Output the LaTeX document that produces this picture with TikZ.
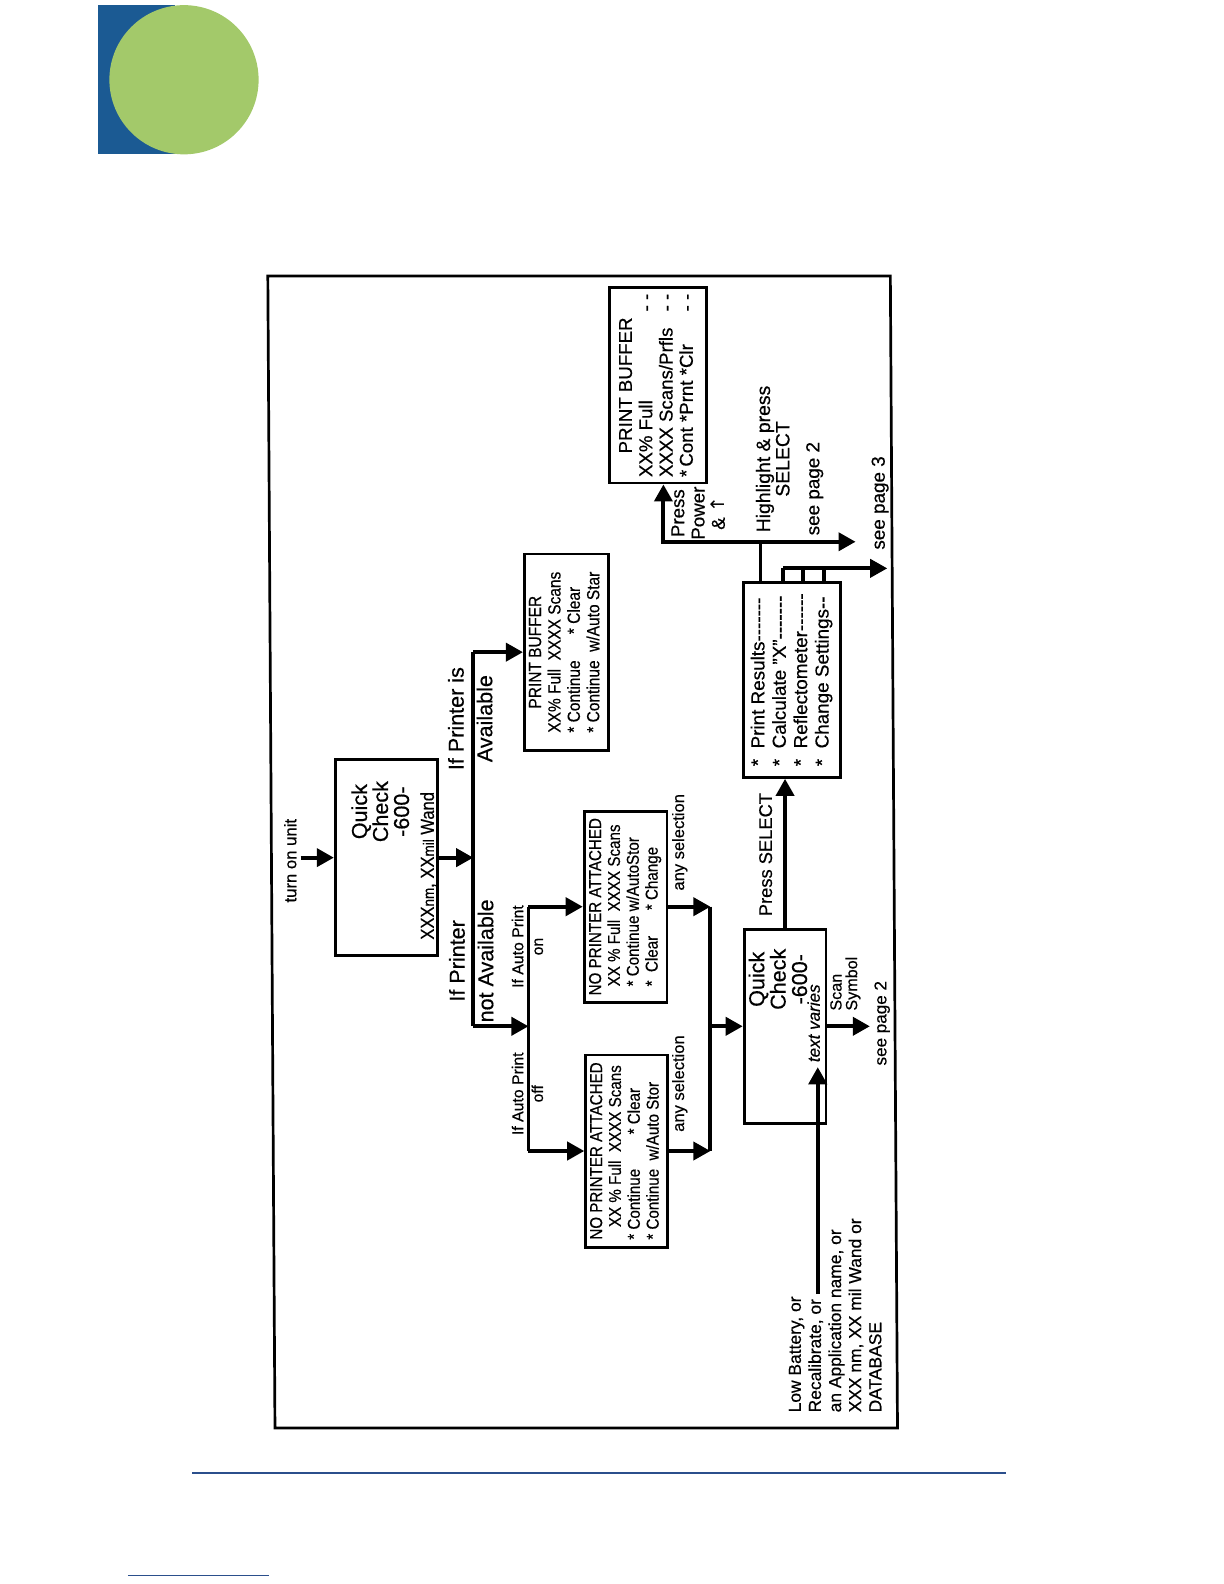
\documentclass[tikz,border=0pt]{standalone}
\usepackage{fontspec}
\setmainfont{Liberation Sans}[FakeBold=0.5]
\newfontfamily\narrowfont{Liberation Sans}[FakeStretch=0.88, FakeBold=0.4]
\newfontfamily\symbolfont{DejaVu Sans}
\usetikzlibrary{arrows.meta}

\definecolor{logoblue}{HTML}{1B5A93}
\definecolor{logogreen}{HTML}{A3C96A}
\definecolor{ruleblue}{HTML}{2B4F8C}

\begin{document}
\begin{tikzpicture}[
    x=0.02cm, y=-0.02cm,
    box/.style={
        draw,
        line width=1.6pt,
        rotate=90,
        inner sep=0pt,
        align=center
    },
    lbl/.style={rotate=90, inner sep=0pt, align=center},
    arrow/.style={-{Triangle[length=9.5pt,width=10pt]}, line width=2.2pt},
    wire/.style={line width=2.2pt}
]
\useasboundingbox (0,0) rectangle (1197.4,1549.6);

% ===== Page decoration =====
\fill[logoblue] (96,5) rectangle (171,151);
\fill[logogreen] (180,78) circle (1.46cm);
\draw[ruleblue, line width=0.8pt] (188,1441) -- (984,1441);
\draw[ruleblue, line width=0.8pt] (125,1541) -- (263,1541);

% ===== Frame =====
\draw[line width=1.5pt] (262,270) -- (871,270) -- (878,1397) -- (269,1397) -- cycle;

% ===== Boxes =====
\node[box, minimum width=3.84cm, minimum height=2.0cm] (qc1) at (378,839) {};

\node[box, minimum width=3.84cm, minimum height=1.64cm,
      font=\narrowfont\fontsize{9.8}{10.8}\selectfont] (pbuf) at (554,638)
  {\begin{tabular}{@{}l@{}}\multicolumn{1}{@{}c@{}}{PRINT BUFFER}\\
   XX\% Full\ \ XXXX Scans\\
   {*} Continue\quad\ \ {*} Clear\\
   {*} Continue\ \ w/Auto Star\end{tabular}};

\node[box, minimum width=3.74cm, minimum height=1.62cm,
      font=\narrowfont\fontsize{9.6}{10.5}\selectfont] (noprnon) at (612,887)
  {\begin{tabular}{@{}l@{}}\multicolumn{1}{@{}c@{}}{NO PRINTER ATTACHED}\\
   \hspace*{5pt}XX \% Full\ \ XXXX Scans\\
   \hspace*{5pt}{*} Continue w/AutoStor\\
   \hspace*{5pt}{*}\ \ Clear\quad\ \ {*} Change\end{tabular}};

\node[box, minimum width=3.76cm, minimum height=1.60cm,
      font=\narrowfont\fontsize{9.6}{10.5}\selectfont] (noproff) at (613,1126)
  {\begin{tabular}{@{}l@{}}\multicolumn{1}{@{}c@{}}{NO PRINTER ATTACHED}\\
   \hspace*{7pt}XX \% Full\ \ XXXX Scans\\
   {*} Continue\qquad {*} Clear\\
   {*} Continue\ \ w/Auto Stor\end{tabular}};

\node[box, minimum width=3.80cm, minimum height=1.60cm] (qc2) at (768,1004) {};

\node[box, minimum width=3.82cm, minimum height=1.90cm,
      font=\fontsize{10.5}{11.9}\selectfont] (menu) at (775,665)
  {\begin{tabular}{@{}l@{}}
   {*}\ \ Print Results-{}-{}-{}-{}-{}-{}-\\
   {*}\ \ Calculate "X"-{}-{}-{}-{}-{}-{}-\\
   {*}\ \ Reflectometer-{}-{}-{}-{}-{}-\\
   {*}\ \ Change Settings-{}-\end{tabular}};

\node[box, minimum width=3.82cm, minimum height=1.90cm,
      font=\fontsize{10.4}{11.3}\selectfont] (pbufpow) at (644,377)
  {\begin{tabular}{@{}l@{\hspace{9pt}}r@{}}\multicolumn{2}{@{}c@{}}{PRINT BUFFER}\\
   XX\% Full & - -\\
   XXXX Scans/Prfls & - -\\
   {*}\,Cont *Prnt *Clr & - -\end{tabular}};

% ===== Texts inside the Quick Check boxes =====
\node[lbl, font=\fontsize{12}{11.7}\selectfont] (qc1name) at (372,794) {Quick\\Check\\-600-};
\node[lbl, font=\narrowfont\fontsize{10.5}{12}\selectfont] (qc1wand) at (419,847)
  {XXX{\fontsize{8.5}{9}\selectfont nm}, XX{\fontsize{8.5}{9}\selectfont mil} Wand};

\node[lbl, font=\fontsize{12}{11.9}\selectfont] (qc2name) at (761,958) {Quick\\Check\\-600-};
\node[lbl, font=\itshape\fontsize{9.5}{10}\selectfont] (varies) at (796,1001) {text varies};

% ===== Labels =====
\node[lbl, font=\fontsize{9.3}{11}\selectfont] (turnlbl) at (284,842) {turn on unit};
\node[lbl, font=\fontsize{12}{15.9}\selectfont] (availlbl) at (460,703) {If Printer is\\Available};
\node[lbl, font=\fontsize{12}{15.9}\selectfont] (notavaillbl) at (461,940) {If Printer\\not Available};
\node[lbl, font=\fontsize{8.8}{11}\selectfont] (aponlbl) at (516,926) {If Auto Print\\on};
\node[lbl, font=\fontsize{8.8}{11}\selectfont] (apofflbl) at (516,1070) {If Auto Print\\off};
\node[lbl, font=\fontsize{9.2}{11}\selectfont] (anyselon) at (665,824) {any selection};
\node[lbl, font=\fontsize{9.2}{11}\selectfont] (anyseloff) at (665,1060) {any selection};
\node[lbl, font=\fontsize{10.2}{12}\selectfont] (presssel) at (749,836) {Press SELECT};
\node[lbl, font=\fontsize{9}{8.7}\selectfont, align=left, anchor=west] (scanlbl) at (827,989) {Scan\\Symbol};
\node[lbl, font=\fontsize{9.5}{11}\selectfont] (seepagetwob) at (863,1001) {see page 2};
\node[lbl, font=\fontsize{9.7}{11.2}\selectfont, align=left, anchor=west] (lowbatlbl) at (817,1382)
  {Low Battery, or\\Recalibrate, or\\an Application name, or\\XXX nm, XX mil Wand or\\DATABASE};
\node[lbl, font=\fontsize{10.8}{10.8}\selectfont] (highlbl) at (756,449) {Highlight \& press\\SELECT};
\node[lbl, font=\fontsize{10.5}{11}\selectfont] (seepagetwoa) at (797,478) {see page 2};
\node[lbl, font=\fontsize{10.5}{11}\selectfont] (seepagethree) at (861,492) {see page 3};
\node[lbl, font=\fontsize{10.4}{11.3}\selectfont] (presspow) at (683,502) {Press\\Power\\\& {\symbolfont ↑}};

% ===== Junction points =====
\coordinate (turnon) at (294,839);
\coordinate (avail) at (463,638);
\coordinate (notavail) at (463,1004);
\coordinate (apon) at (517,887);
\coordinate (apoff) at (517,1126);
\coordinate (mtop) at (695,887);
\coordinate (mbot) at (695,1126);
\coordinate (scanend) at (851,1004);
\coordinate (lowbat) at (800,1266);
\coordinate (lowtip) at (800,1044);
\coordinate (hl) at (744,530);
\coordinate (pp) at (649,530);
\coordinate (seetwo) at (837,530);
\coordinate (seethreea) at (766,556);
\coordinate (seethree) at (868,556);

% ===== Arrows =====
\draw[arrow] (turnon) -- (qc1.north);
\draw[arrow] (qc1.south) -- (qc1.south -| avail);
\draw[wire] (avail) -- (notavail);
\draw[arrow] (avail) -- (pbuf.north);
\draw[arrow] (notavail) -- (notavail -| apon);

\draw[wire] (apon) -- (apoff);
\draw[arrow] (apon) -- (noprnon.north);
\draw[arrow] (apoff) -- (noproff.north);

\draw[arrow] (noprnon.south) -- (mtop);
\draw[arrow] (noproff.south) -- (mbot);
\draw[wire] (mtop) -- (mbot);
\draw[arrow] (mtop |- qc2.north) -- (qc2.north);

\draw[arrow] (qc2.east) -- (qc2.east |- menu.west);
\draw[arrow] (qc2.south) -- (scanend);
\draw[arrow] (lowbat) -- (lowtip);

\draw[wire] (hl |- menu.east) -- (hl);
\draw[arrow] (hl) -- (pp) -- (pp |- pbufpow.west);
\draw[arrow] (hl) -- (seetwo);
\draw[arrow] (seethreea) -- (seethree);
\foreach \t in {766,786,806}
  \draw[wire] (\t,556) -- (\t,570);

\end{tikzpicture}
\end{document}
